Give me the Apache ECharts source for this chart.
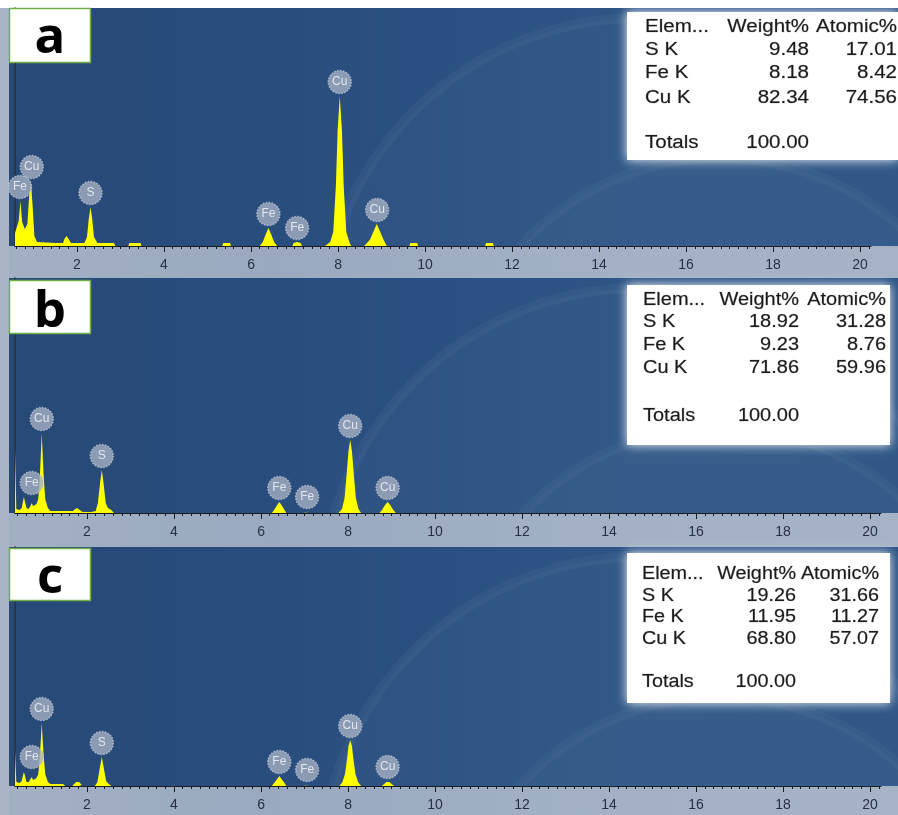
<!DOCTYPE html>
<html>
<head>
<meta charset="utf-8">
<script src="https://cdn.jsdelivr.net/npm/echarts@6/dist/echarts.min.js"></script>
<style>
  html, body { margin: 0; padding: 0; background: #ffffff; }
  #chart { width: 898px; height: 815px; }
</style>
</head>
<body>
<div id="chart"></div>
<script>
// ---- EDS spectra: [energy keV, counts] outline points; null separates signal-free stretches ----
const spectrumA = [
  [0.575, 13], [0.62, 14], [0.66, 25], [0.70, 45], [0.74, 24], [0.80, 17], [0.86, 22], [0.90, 50],
  [0.94, 65], [0.98, 40], [1.02, 10], [1.08, 4], [1.50, 3], [1.68, 3], [1.71, 7], [1.76, 10],
  [1.81, 7], [1.86, 3], [2.17, 3], [2.23, 9], [2.27, 27], [2.31, 39], [2.35, 27], [2.39, 9],
  [2.47, 3], [2.85, 3], [2.88, 0], null,
  [3.18, 0], [3.20, 3], [3.46, 3], [3.48, 0], null,
  [5.34, 0], [5.36, 3], [5.52, 3], [5.54, 0], null,
  [6.20, 0], [6.27, 4], [6.34, 12], [6.40, 18], [6.46, 12], [6.53, 4], [6.60, 0], null,
  [6.95, 0], [6.98, 3], [7.06, 4], [7.14, 3], [7.17, 0], null,
  [7.70, 0], [7.72, 2], [7.82, 4], [7.89, 14], [7.95, 60], [7.99, 115], [8.04, 150], [8.09, 115],
  [8.13, 60], [8.19, 14], [8.26, 4], [8.30, 0], null,
  [8.60, 0], [8.64, 2], [8.73, 6], [8.81, 14], [8.89, 22], [8.97, 14], [9.05, 6], [9.12, 0], null,
  [9.64, 0], [9.66, 3], [9.82, 3], [9.84, 0], null,
  [11.38, 0], [11.40, 3], [11.56, 3], [11.58, 0]
];
const spectrumB = [
  [0.345, 63], [0.36, 63], [0.375, 4], [0.45, 3], [0.50, 5], [0.53, 12], [0.55, 16], [0.57, 12],
  [0.61, 5], [0.66, 4], [0.70, 7], [0.73, 10], [0.76, 7], [0.80, 6], [0.84, 9], [0.88, 14],
  [0.92, 40], [0.96, 80], [1.00, 40], [1.04, 14], [1.10, 5], [1.16, 2], [1.60, 2], [1.68, 2],
  [1.73, 4], [1.78, 5], [1.83, 3], [1.90, 1], [2.10, 1], [2.20, 2], [2.25, 10], [2.30, 30],
  [2.34, 43], [2.38, 30], [2.43, 10], [2.48, 5], [2.56, 3], [2.62, 0], null,
  [6.25, 0], [6.30, 3], [6.37, 8], [6.42, 11], [6.47, 8], [6.54, 3], [6.58, 0], null,
  [6.98, 0], [7.00, 2], [7.12, 2], [7.14, 0], null,
  [7.78, 0], [7.86, 4], [7.92, 15], [7.97, 40], [8.01, 62], [8.05, 73], [8.09, 62], [8.13, 40],
  [8.18, 15], [8.24, 4], [8.30, 0], null,
  [8.72, 0], [8.78, 3], [8.85, 8], [8.91, 11], [8.97, 8], [9.04, 3], [9.10, 0]
];
const spectrumC = [
  [0.345, 35], [0.36, 35], [0.375, 4], [0.45, 3], [0.50, 5], [0.53, 11], [0.55, 14], [0.57, 11],
  [0.61, 4], [0.66, 4], [0.70, 6], [0.73, 9], [0.76, 6], [0.80, 5], [0.84, 8], [0.88, 12],
  [0.92, 32], [0.96, 63], [1.00, 32], [1.04, 12], [1.10, 4], [1.16, 2], [1.45, 2], [1.50, 0], null,
  [1.66, 0], [1.70, 2], [1.75, 4], [1.78, 5], [1.82, 4], [1.88, 1], [1.92, 0], null,
  [2.18, 0], [2.24, 4], [2.29, 17], [2.34, 29], [2.39, 17], [2.44, 5], [2.50, 2], [2.56, 0], null,
  [3.95, 0], [3.96, 2], [4.01, 2], [4.02, 0], null,
  [6.25, 0], [6.30, 3], [6.37, 7], [6.42, 10], [6.47, 7], [6.54, 3], [6.58, 0], null,
  [6.98, 0], [7.00, 2], [7.12, 2], [7.14, 0], null,
  [7.80, 0], [7.87, 4], [7.93, 12], [7.98, 28], [8.01, 40], [8.05, 46], [8.09, 40], [8.12, 28],
  [8.17, 12], [8.23, 4], [8.30, 0], null,
  [8.78, 0], [8.83, 2], [8.88, 4], [8.91, 5], [8.95, 4], [9.00, 2], [9.06, 0]
];

// ---- peak identification markers: [element, energy keV, counts at marker stem] ----
const peaksA = [['Fe', 0.69, 45], ['Cu', 0.96, 65], ['S', 2.31, 39], ['Fe', 6.40, 18],
                ['Fe', 7.06, 4], ['Cu', 8.04, 150], ['Cu', 8.90, 22]];
const peaksB = [['Fe', 0.73, 16], ['Cu', 0.96, 80], ['S', 2.34, 43], ['Fe', 6.42, 11],
                ['Fe', 7.06, 2], ['Cu', 8.05, 73], ['Cu', 8.91, 11]];
const peaksC = [['Fe', 0.73, 15], ['Cu', 0.96, 63], ['S', 2.34, 29], ['Fe', 6.42, 10],
                ['Fe', 7.06, 2], ['Cu', 8.05, 46], ['Cu', 8.91, 5]];

// ---- quantification tables ----
const elementLines = ['S K', 'Fe K', 'Cu K'];
const weightA = [9.48, 8.18, 82.34];
const atomicA = [17.01, 8.42, 74.56];
const weightB = [18.92, 9.23, 71.86];
const atomicB = [31.28, 8.76, 59.96];
const weightC = [19.26, 11.95, 68.80];
const atomicC = [31.66, 11.27, 57.07];
const totalWeight = '100.00';

// ---- energy axis ticks ----
const energyTicks = [2, 4, 6, 8, 10, 12, 14, 16, 18, 20];
const minorTicks = [];
for (let k = 2; k <= 101; k++) minorTicks.push(Math.round(k * 20) / 100);

// ---- layout of the three stacked panels ----
const panelLayout = [
  { letter: 'a', spec: spectrumA, peaks: peaksA, weight: weightA, atomic: atomicA,
    top: 8, axisY: 246, stripEnd: 278, left: 15, right: 871, xMin: 0.575, xMax: 20.25,
    letterBox: [9, 8, 81, 54], letterY: 38.5,
    table: { box: [627, 12, 271, 148], elemX: 645, weightR: 809, atomicR: 897,
             rows: [27, 50, 73, 98], totalY: 143, sx: 1.14 } },
  { letter: 'b', spec: spectrumB, peaks: peaksB, weight: weightB, atomic: atomicB,
    top: 278, axisY: 513, stripEnd: 547, left: 15, right: 881, xMin: 0.345, xMax: 20.25,
    letterBox: [9, 280, 81, 53], letterY: 312.5,
    table: { box: [627, 285, 263, 160], elemX: 643, weightR: 799, atomicR: 886,
             rows: [300, 322, 345, 368], totalY: 416, sx: 1.11 } },
  { letter: 'c', spec: spectrumC, peaks: peaksC, weight: weightC, atomic: atomicC,
    top: 547, axisY: 786, stripEnd: 815, left: 15, right: 881, xMin: 0.345, xMax: 20.25,
    letterBox: [9, 548, 81, 52], letterY: 578.5,
    table: { box: [627, 553, 263, 150], elemX: 642, weightR: 796, atomicR: 879,
             rows: [574, 596, 617, 639], totalY: 682, sx: 1.1 } }
];

const W = 898;
const BLUE = {
  type: 'linear', x: 0, y: 0, x2: 1, y2: 0,
  colorStops: [
    { offset: 0, color: '#274977' },
    { offset: 0.45, color: '#2a5081' },
    { offset: 0.75, color: '#2e5687' },
    { offset: 1, color: '#2c5485' }
  ]
};
const STRIP = {
  type: 'linear', x: 0, y: 0, x2: 1, y2: 0,
  colorStops: [
    { offset: 0, color: '#a3b0c4' },
    { offset: 0.3, color: '#9aa9bf' },
    { offset: 0.6, color: '#a2b0c5' },
    { offset: 1, color: '#a6b3c7' }
  ]
};
const tableFont = '18px "Liberation Sans", Arial, sans-serif';
const tableInk = '#1a1a1a';

const grids = [], xAxes = [], yAxes = [], series = [], graphics = [];

// page margin on the left
graphics.push({ type: 'rect', z: -20, shape: { x: 0, y: 8, width: 9, height: 807 },
                style: { fill: '#a9b5c7' }, silent: true });

panelLayout.forEach((p, i) => {
  // panel backdrop with faint sweeping highlights, then the light energy-scale strip
  graphics.push({ type: 'rect', z: -20, silent: true,
    shape: { x: 9, y: p.top, width: W - 9, height: p.axisY - p.top }, style: { fill: BLUE } });
  graphics.push({ type: 'circle', z: -20, silent: true,
    shape: { cx: 640, cy: p.top + 330, r: 320 },
    style: { fill: 'rgba(255,255,255,0.025)', stroke: 'rgba(255,255,255,0.04)', lineWidth: 10,
             shadowBlur: 14, shadowColor: 'rgba(255,255,255,0.05)' } });
  graphics.push({ type: 'circle', z: -20, silent: true,
    shape: { cx: 720, cy: p.top + 420, r: 270 },
    style: { fill: 'rgba(255,255,255,0.02)', stroke: 'rgba(255,255,255,0.03)', lineWidth: 10,
             shadowBlur: 14, shadowColor: 'rgba(255,255,255,0.04)' } });
  graphics.push({ type: 'rect', z: -20, silent: true,
    shape: { x: 9, y: p.axisY, width: W - 9, height: p.stripEnd - p.axisY }, style: { fill: STRIP } });

  const h = p.axisY - p.top;
  grids.push({ left: p.left, top: p.top, width: p.right - p.left, height: h, containLabel: false });

  xAxes.push({
    gridIndex: i, type: 'value', min: p.xMin, max: p.xMax, position: 'bottom', z: 5,
    axisLine: { show: true, onZero: false, lineStyle: { color: '#181b22', width: 1 } },
    axisTick: { show: true, customValues: energyTicks, length: 6, lineStyle: { color: '#181b22', width: 1 } },
    axisLabel: { show: true, customValues: energyTicks, margin: 12, color: '#283043', fontSize: 14,
                 fontFamily: '"Liberation Sans", Arial, sans-serif' },
    splitLine: { show: false }
  });
  xAxes.push({
    gridIndex: i, type: 'value', min: p.xMin, max: p.xMax, position: 'bottom', z: 5,
    axisLine: { show: false },
    axisTick: { show: true, customValues: minorTicks, length: 3, lineStyle: { color: '#181b22', width: 1 } },
    axisLabel: { show: false }, splitLine: { show: false }
  });
  yAxes.push({
    gridIndex: i, type: 'value', min: 0, max: h,
    axisLine: { show: true, lineStyle: { color: '#2b2f38', width: 1.5 } },
    axisTick: { show: false }, axisLabel: { show: false }, splitLine: { show: false }
  });

  series.push({
    type: 'line', xAxisIndex: 2 * i, yAxisIndex: i, symbol: 'none', connectNulls: false,
    data: p.spec.map(d => (d ? d : ['-', '-'])),
    lineStyle: { width: 0 }, areaStyle: { color: '#ffff00', opacity: 1 },
    clip: true, z: 2, animation: false
  });
  series.push({
    type: 'scatter', xAxisIndex: 2 * i, yAxisIndex: i, z: 3, animation: false,
    data: p.peaks.map(pk => ({ name: pk[0], value: [pk[1], pk[2]] })),
    symbol: 'circle', symbolSize: 23, symbolOffset: [0, -14],
    itemStyle: { color: '#a5afc2', borderColor: '#bdc5d3', borderWidth: 1.5, borderType: 'dotted' },
    label: { show: true, position: 'inside', formatter: '{b}', color: '#f6f7fa', fontSize: 12,
             fontFamily: '"Liberation Sans", Arial, sans-serif' },
    emphasis: { disabled: true }
  });

  // panel letter
  const lb = p.letterBox;
  graphics.push({ type: 'rect', z: 10, silent: true,
    shape: { x: lb[0] + 0.5, y: lb[1] + 0.5, width: lb[2], height: lb[3] },
    style: { fill: '#ffffff', stroke: '#6fae48', lineWidth: 1.5 } });
  graphics.push({ type: 'text', z: 11, silent: true, x: lb[0] + lb[2] / 2 + 0.5, y: p.letterY,
    style: { text: p.letter, font: 'bold 51px "Open Sans", sans-serif', fill: '#000000',
             align: 'center', verticalAlign: 'middle' } });

  // quantification table on a soft-edged white card
  const t = p.table;
  graphics.push({ type: 'rect', z: 10, silent: true,
    shape: { x: t.box[0], y: t.box[1], width: t.box[2], height: t.box[3] },
    style: { fill: '#ffffff', shadowBlur: 10, shadowColor: 'rgba(255,255,255,0.95)' } });
  const txt = (s, x, y, align) => ({
    type: 'text', z: 11, silent: true, x: x, y: y, scaleX: t.sx,
    style: { text: s, font: tableFont, fill: tableInk, align: align, verticalAlign: 'middle',
             stroke: 'rgba(26,26,26,0.35)', lineWidth: 0.6 }
  });
  graphics.push(txt('Elem...', t.elemX, t.rows[0], 'left'));
  graphics.push(txt('Weight%', t.weightR, t.rows[0], 'right'));
  graphics.push(txt('Atomic%', t.atomicR, t.rows[0], 'right'));
  elementLines.forEach((el, r) => {
    graphics.push(txt(el, t.elemX, t.rows[r + 1], 'left'));
    graphics.push(txt(p.weight[r].toFixed(2), t.weightR, t.rows[r + 1], 'right'));
    graphics.push(txt(p.atomic[r].toFixed(2), t.atomicR, t.rows[r + 1], 'right'));
  });
  graphics.push(txt('Totals', t.elemX, t.totalY, 'left'));
  graphics.push(txt(totalWeight, t.weightR, t.totalY, 'right'));
});

const chart = echarts.init(document.getElementById('chart'), null, { renderer: 'canvas' });
chart.setOption({
  backgroundColor: '#ffffff',
  animation: false,
  grid: grids,
  xAxis: xAxes,
  yAxis: yAxes,
  series: series,
  graphic: { elements: graphics }
});
</script>
</body>
</html>
